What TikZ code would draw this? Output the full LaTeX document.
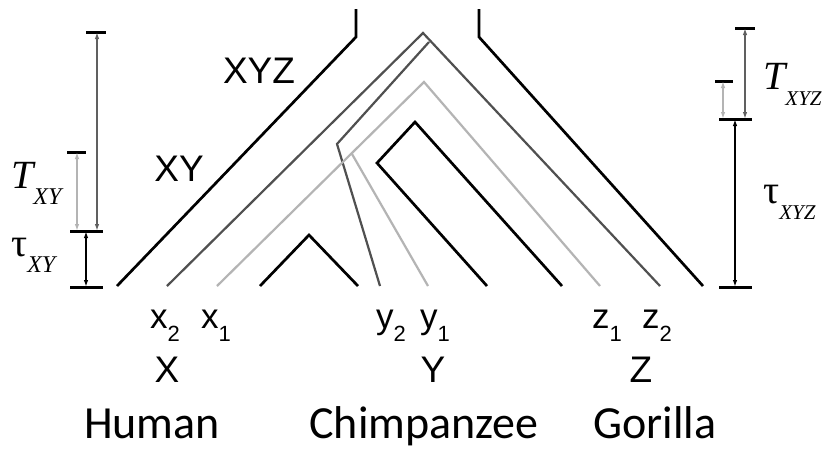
\documentclass[tikz,border=0pt]{standalone}
\usepackage{fontspec}
\setmainfont{Liberation Sans}
\newfontfamily\serifont{Liberation Serif}
\newfontfamily\calfont{Carlito}
\usetikzlibrary{arrows.meta}
\definecolor{dgray}{HTML}{505050}
\definecolor{lgray}{HTML}{B4B4B4}
\definecolor{mgray}{HTML}{606060}
\tikzset{
  wall/.style={black,line width=2.7pt,line join=miter},
  gdark/.style={dgray,line width=2.2pt},
  glight/.style={lgray,line width=2.2pt},
  bar/.style={black,line width=3pt},
  dimarr/.style={line width=2pt,{Latex[length=7pt,width=4.5pt]}-{Latex[length=7pt,width=4.5pt]}},
  lab/.style={inner sep=0pt,anchor=base west,font=\fontsize{35}{35}\selectfont},
  caplab/.style={inner sep=0pt,anchor=base,font=\fontsize{37}{37}\selectfont},
  species/.style={inner sep=0pt,anchor=base,font=\calfont\fontsize{46}{46}\selectfont},
  greek/.style={inner sep=0pt,anchor=base west,font=\serifont\fontsize{40}{40}\selectfont}
}
\newcommand\lsub[1]{\raisebox{-13pt}{\fontsize{22}{22}\selectfont #1}}
\newcommand\gsub[1]{\raisebox{-16pt}{\fontsize{24}{24}\selectfont\itshape #1}}
\newcommand\gsubs[1]{\raisebox{-16pt}{\fontsize{21}{21}\selectfont\itshape #1}}
\begin{document}
\begin{tikzpicture}[x=1pt,y=-1pt]
\useasboundingbox[fill=white] (0,0) rectangle (826,456);
% species tree walls
\draw[wall] (117,286) -- (356,37) -- (356,9);
\draw[wall] (479,9) -- (479,37) -- (703,286);
\draw[wall] (260,286) -- (309,235) -- (358,286);
\draw[wall] (487,286) -- (377,163) -- (415,122) -- (562,286);
% gene lineages
\draw[gdark] (167,286) -- (423,33) -- (660,286);
\draw[gdark] (380,286) -- (337,144) -- (429,42);
\draw[glight] (217,286) -- (424,82) -- (600,286);
\draw[glight] (428,286) -- (352,154);
% left scale
\coordinate (bigTopL) at (97,32);
\coordinate (bigBotL) at (97,231);
\coordinate (smTopL) at (77,152);
\coordinate (smBotL) at (77,231);
\coordinate (tauTopL) at (86,231);
\coordinate (tauBotL) at (86,287);
\draw[bar] (86,32) -- (106,32);
\draw[bar] (67,152) -- (86,152);
\draw[bar] (70,231) -- (103,231);
\draw[bar] (70,287) -- (103,287);
\draw[dimarr,mgray] (bigTopL) -- (bigBotL);
\draw[dimarr,lgray] (smTopL) -- (smBotL);
\draw[dimarr,black] (tauTopL) -- (tauBotL);
% right scale
\coordinate (bigTopR) at (745,28);
\coordinate (bigBotR) at (745,119);
\coordinate (smTopR) at (723,81);
\coordinate (smBotR) at (723,119);
\coordinate (tauTopR) at (735,119);
\coordinate (tauBotR) at (735,287);
\draw[bar] (735,28) -- (755,28);
\draw[bar] (715,81) -- (733,81);
\draw[bar] (719,119) -- (752,119);
\draw[bar] (719,287) -- (752,287);
\draw[dimarr,mgray] (bigTopR) -- (bigBotR);
\draw[dimarr,lgray] (smTopR) -- (smBotR);
\draw[dimarr,black] (tauTopR) -- (tauBotR);
% labels
\node[caplab] (lxyz) at (259,83) {XYZ};
\node[caplab] (lxy) at (179,181) {XY};
\node[greek] (TXY) at (11,188) {\itshape T\gsub{XY}};
\node[greek] (tauXY) at (11,256) {τ\gsub{XY}};
\node[greek] (TXYZ) at (763,89) {\itshape T\gsubs{XYZ}};
\node[greek] (tauXYZ) at (763,203) {τ\gsubs{XYZ}};
\node[lab] (x2) at (150,328) {x\lsub{2}};
\node[lab] (x1) at (201,328) {x\lsub{1}};
\node[lab] (y2) at (376,328) {y\lsub{2}};
\node[lab] (y1) at (420,328) {y\lsub{1}};
\node[lab] (z1) at (592,328) {z\lsub{1}};
\node[lab] (z2) at (642,328) {z\lsub{2}};
\node[caplab] (X) at (167,382) {X};
\node[caplab] (Y) at (433,382) {Y};
\node[caplab] (Z) at (641,382) {Z};
\node[species] (human) at (152,438) {Human};
\node[species] (chimp) at (424,438) {Chimpanzee};
\node[species] (gorilla) at (655,438) {Gorilla};
\end{tikzpicture}
\end{document}
